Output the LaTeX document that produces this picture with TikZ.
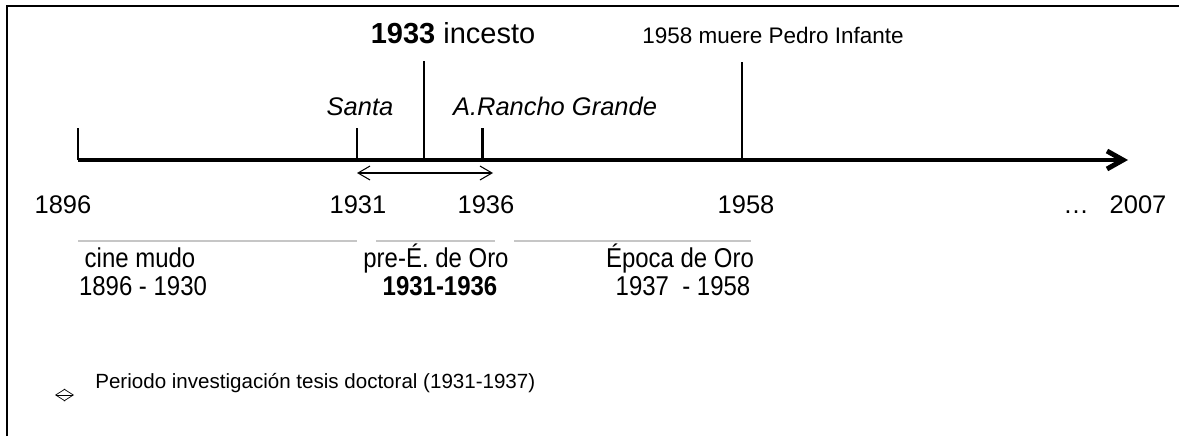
\documentclass[tikz,border=0pt]{standalone}
\usepackage{fontspec}
\setmainfont{Liberation Sans}
\newfontfamily\narrowsans[FakeStretch=0.88]{Liberation Sans}
\usetikzlibrary{arrows.meta}

\tikzset{
  year/.style={font=\fontsize{14.5}{16}\selectfont, anchor=base, inner sep=0pt},
  film/.style={font=\fontsize{14.5}{16}\selectfont\itshape, anchor=base, inner sep=0pt},
  era/.style={font=\narrowsans\fontsize{15.5}{17}\selectfont, anchor=base, inner sep=0pt},
  periodbar/.style={gray!45, line width=0.7pt},
  tick/.style={line width=1.7pt},
  event/.style={line width=0.8pt}
}

\begin{document}
\begin{tikzpicture}[x=0.02cm,y=-0.02cm]
  \useasboundingbox (0,0) rectangle (1179,436);
  \draw[line width=1.1pt] (7,436) -- (7,6) -- (1179,6);

  % main axis
  \coordinate (a1896) at (78,160);
  \coordinate (a1931) at (357,160);
  \coordinate (a1933) at (424,160);
  \coordinate (a1936) at (482,160);
  \coordinate (a1958) at (742,160);
  \coordinate (aend) at (1128,160);
  \draw[line width=2.8pt,-{Straight Barb[length=3.2mm,width=3.6mm]}] (a1896) -- (aend);

  % ticks and events
  \coordinate (t1896) at (78,128);
  \coordinate (t1931) at (357,128);
  \coordinate (t1936) at (482,128);
  \coordinate (t1933) at (424,61);
  \coordinate (t1958) at (742,62);
  \draw[tick] (t1896) -- (a1896);
  \draw[tick] (t1931) -- (a1931);
  \draw[tick] (t1936) -- (a1936);
  \draw[event] (t1933) -- (a1933);
  \draw[event] (t1958) -- (a1958);

  % research period
  \coordinate (r1) at (357,173);
  \coordinate (r2) at (493,173);
  \draw[line width=0.6pt,{Straight Barb[length=2.4mm,width=2.8mm]}-{Straight Barb[length=2.4mm,width=2.8mm]}] (r1) -- (r2);

  % labels above
  \node[font=\fontsize{16.5}{18}\selectfont, anchor=base, inner sep=0pt] (incesto) at (453,43) {\textbf{1933} incesto};
  \node[font=\fontsize{12.8}{15}\selectfont, anchor=base, inner sep=0pt] (infante) at (773,43) {1958 muere Pedro Infante};
  \node[film] (santa) at (360,115) {Santa};
  \node[film] (rancho) at (555,115) {A.Rancho Grande};

  % years below
  \node[year] (y1896) at (63,213) {1896};
  \node[year] (y1931) at (358,213) {1931};
  \node[year] (y1936) at (486,213) {1936};
  \node[year] (y1958) at (746,213) {1958};
  \node[year] (dots) at (1076,213) {\dots};
  \node[year] (y2007) at (1138,213) {2007};

  % periods
  \draw[periodbar] (78,241) -- (357,241);
  \draw[periodbar] (376,241) -- (495,241);
  \draw[periodbar] (514,241) -- (751,241);
  \node[era] (mudo) at (140,267) {cine mudo};
  \node[era] (mudoyrs) at (143,295) {1896 - 1930};
  \node[era] (pre) at (436,267) {pre-É. de Oro};
  \node[era] (preyrs) at (440,295) {\textbf{1931-1936}};
  \node[era] (oro) at (680,267) {Época de Oro};
  \node[era] (oroyrs) at (683,295) {1937\ \ - 1958};

  % legend
  \coordinate (l1) at (55,395);
  \coordinate (l2) at (74,395);
  \draw[line width=0.4pt,{Straight Barb[length=1.9mm,width=2.4mm]}-{Straight Barb[length=1.9mm,width=2.4mm]}] (l1) -- (l2);
  \node[font=\fontsize{11.7}{14}\selectfont, anchor=base west, inner sep=0pt] (legend) at (95,388) {Periodo investigación tesis doctoral (1931-1937)};
\end{tikzpicture}
\end{document}
